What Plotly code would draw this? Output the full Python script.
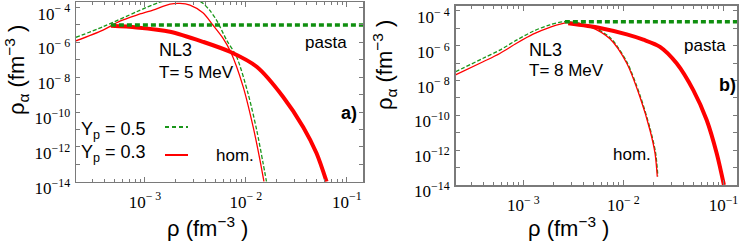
import plotly.graph_objects as go

# ---------------- data: panel a (NL3, T = 5 MeV) ----------------
a_hom03_rho = [2.07e-4, 3.84e-4, 5.65e-4, 8.28e-4, 1.20e-3, 1.77e-3, 2.22e-3, 2.79e-3,
               3.75e-3, 4.71e-3, 5.92e-3, 7.06e-3, 9.40e-3, 1.18e-2, 1.38e-2, 1.51e-2]
a_hom03_alpha = [1.23e-6, 5.1e-6, 1.66e-5, 3.7e-5, 7.2e-5, 1.58e-4, 1.74e-4, 1.38e-4,
                 5.0e-5, 1.0e-5, 1.78e-6, 2.9e-7, 2.8e-9, 1.4e-11, 1.7e-13, 1.0e-14]

a_hom05_rho = [2.07e-4, 3.84e-4, 8.28e-4, 1.35e-3, 1.78e-3, 2.51e-3, 3.16e-3, 3.64e-3,
               4.37e-3, 5.13e-3, 6.44e-3, 8.09e-3, 1.05e-2, 1.28e-2, 1.48e-2, 1.60e-2]
a_hom05_alpha = [1.95e-6, 7.9e-6, 5.75e-5, 1.9e-4, 2.8e-4, 3.2e-4, 2.6e-4, 2.0e-4,
                 7.1e-5, 1.86e-5, 1.35e-6, 1.48e-7, 1.17e-9, 9.1e-12, 1.15e-13, 1.0e-14]

a_pasta03_rho = [4.60e-4, 8.28e-4, 1.77e-3, 3.78e-3, 6.95e-3, 1.28e-2, 2.34e-2, 3.69e-2, 5.01e-2, 6.30e-2]
a_pasta03_alpha = [8.9e-6, 7.2e-6, 4.1e-6, 1.07e-6, 2.9e-7, 4.0e-8, 7.4e-10, 1.4e-11, 4.3e-13, 1.0e-14]

a_pasta05_rho = [4.60e-4, 0.145]
a_pasta05_alpha = [1.0e-5, 1.0e-5]

# ---------------- data: panel b (NL3, T = 8 MeV) ----------------
b_hom03_rho = [2.10e-4, 3.96e-4, 5.82e-4, 8.55e-4, 1.25e-3, 1.84e-3, 2.81e-3, 4.62e-3,
               7.33e-3, 1.08e-2, 1.46e-2, 1.84e-2, 2.07e-2, 2.18e-2]
b_hom03_alpha = [2.1e-8, 1.2e-7, 3.6e-7, 1.38e-6, 4.6e-6, 1.15e-5, 2.1e-5, 1.23e-5,
                 2.5e-6, 9.8e-8, 1.17e-9, 1.45e-11, 6.6e-13, 2.95e-14]

b_hom05_rho = [2.10e-4, 3.96e-4, 5.82e-4, 8.55e-4, 1.25e-3, 1.84e-3, 2.60e-3, 4.62e-3,
               7.33e-3, 1.08e-2, 1.46e-2, 1.84e-2, 2.09e-2, 2.21e-2]
b_hom05_alpha = [3.2e-8, 1.9e-7, 5.6e-7, 2.1e-6, 6.8e-6, 1.58e-5, 2.4e-5, 1.38e-5,
                 3.0e-6, 1.2e-7, 1.5e-9, 1.9e-11, 7.9e-13, 3.2e-14]

b_pasta03_rho = [2.81e-3, 5.82e-3, 1.08e-2, 1.58e-2, 2.32e-2, 3.40e-2, 4.99e-2, 6.79e-2, 8.55e-2, 1.01e-1]
b_pasta03_alpha = [1.95e-5, 1.05e-5, 4.5e-6, 2.24e-6, 8.7e-7, 9.8e-8, 2.8e-9, 5.4e-11, 6.6e-13, 1.0e-14]

b_pasta05_rho = [2.60e-3, 0.14]
b_pasta05_alpha = [2.4e-5, 2.4e-5]

# ---------------- ticks ----------------
x_major = [1e-3, 1e-2, 1e-1]
x_labels = ["10<sup>− 3</sup>", "10<sup>− 2</sup>", "10<sup>−1</sup>"]
y_major = [1e-4, 1e-6, 1e-8, 1e-10, 1e-12, 1e-14]
y_labels = ["10<sup>− 4</sup>", "10<sup>− 6</sup>", "10<sup>− 8</sup>",
            "10<sup>−10</sup>", "10<sup>−12</sup>", "10<sup>−14</sup>"]
y_minor = [1e-5, 1e-7, 1e-9, 1e-11, 1e-13]
x_minor = [m * 10.0 ** e for e in (-4, -3, -2, -1) for m in range(2, 10)]

RED = "#ff0000"
GREEN = "#1a961a"
GREEN_P = "#0f8f0f"
AX = "#7a7a7a"

fig = go.Figure()


def add_panel(xa, ya, hom03, hom05, pas03, pas05):
    fig.add_trace(go.Scatter(x=hom05[0], y=hom05[1], mode="lines", xaxis=xa, yaxis=ya,
                             line=dict(color=GREEN, width=1.3, dash="4px,2px", shape="spline", smoothing=0.8),
                             showlegend=False))
    fig.add_trace(go.Scatter(x=hom03[0], y=hom03[1], mode="lines", xaxis=xa, yaxis=ya,
                             line=dict(color=RED, width=1.3, shape="spline", smoothing=0.8),
                             showlegend=False))
    fig.add_trace(go.Scatter(x=pas03[0], y=pas03[1], mode="lines", xaxis=xa, yaxis=ya,
                             line=dict(color=RED, width=4, shape="spline", smoothing=0.8),
                             showlegend=False))
    fig.add_trace(go.Scatter(x=pas05[0], y=pas05[1], mode="lines", xaxis=xa, yaxis=ya,
                             line=dict(color=GREEN_P, width=3.5, dash="5px,3px"),
                             showlegend=False))


add_panel("x", "y", (a_hom03_rho, a_hom03_alpha), (a_hom05_rho, a_hom05_alpha),
          (a_pasta03_rho, a_pasta03_alpha), (a_pasta05_rho, a_pasta05_alpha))
add_panel("x2", "y2", (b_hom03_rho, b_hom03_alpha), (b_hom05_rho, b_hom05_alpha),
          (b_pasta03_rho, b_pasta03_alpha), (b_pasta05_rho, b_pasta05_alpha))

W, H = 747, 247


def px(x):
    return x / W


def py(y):
    return 1 - y / H


def xaxis(dom, rng, anchor):
    return dict(type="log", domain=dom, range=rng, anchor=anchor, automargin=False,
                showline=True, linecolor=AX, linewidth=1.5,
                mirror="ticks", ticks="inside", ticklen=5, tickwidth=1, tickcolor=AX,
                tickmode="array", tickvals=x_major, ticktext=x_labels, ticklabelstandoff=4,
                ticklabeloverflow="allow",
                tickfont=dict(family="Liberation Serif", size=17, color="black"),
                showgrid=False, zeroline=False,
                minor=dict(tickmode="array", tickvals=x_minor, ticks="inside", ticklen=3,
                           tickcolor=AX, showgrid=False))


def yaxis(dom, rng, anchor):
    return dict(type="log", domain=dom, range=rng, anchor=anchor, automargin=False,
                showline=True, linecolor=AX,
                linewidth=1.5, mirror="ticks", ticks="inside", ticklen=4, tickwidth=1, tickcolor=AX,
                tickmode="array", tickvals=y_major, ticktext=y_labels, ticklabelstandoff=1,
                ticklabelshift=6, ticklabeloverflow="allow",
                tickfont=dict(family="Liberation Serif", size=17, color="black"),
                showgrid=False, zeroline=False,
                minor=dict(tickmode="array", tickvals=y_minor, ticks="inside", ticklen=4,
                           tickcolor=AX, showgrid=False))


fig.update_layout(
    template="none",
    width=W, height=H, margin=dict(l=0, r=0, t=0, b=0, pad=0, autoexpand=False),
    paper_bgcolor="white", plot_bgcolor="white", showlegend=False,
    xaxis=xaxis([px(76), px(363)], [-3.683, -0.84], "y"),
    yaxis=yaxis([py(181.7), py(2)], [-14, -3.68], "x"),
    xaxis2=xaxis([px(455.5), px(737)], [-3.678, -0.865], "y2"),
    yaxis2=yaxis([py(185), py(5.7)], [-14, -3.70], "x2"),
)

SANS = "Liberation Sans"
ann = []


def txt(t, x, y, size=17, xanchor="left", bold=False, angle=0):
    ann.append(dict(text=("<b>%s</b>" % t) if bold else t, x=px(x), y=py(y), xref="paper", yref="paper",
                    xanchor=xanchor, yanchor="middle", showarrow=False, textangle=angle,
                    font=dict(family=SANS, size=size, color="black")))


# panel a texts
txt("NL3", 157, 50, 18)
txt("T= 5 MeV", 157, 72, 17)
txt("pasta", 303, 42, 17)
txt("a)", 339, 113, 18, bold=True)
txt("hom.", 214, 155, 17)
txt("Y<sub>p</sub> = 0.5", 79, 130, 18)
txt("Y<sub>p</sub> = 0.3", 79, 153, 18)
txt("ρ (fm<sup>−3</sup> )", 207, 227, 22, xanchor="center")
txt("ρ<sub>α</sub> (fm<sup>−3</sup> )", 16, 70, 22, xanchor="center", angle=-90)

# panel b texts
txt("NL3", 527, 50, 18)
txt("T= 8 MeV", 527, 70, 17)
txt("pasta", 682, 46, 17)
txt("b)", 717, 85, 18, bold=True)
txt("hom.", 611, 154, 17)
txt("ρ (fm<sup>−3</sup> )", 568, 227, 22, xanchor="center")
txt("ρ<sub>α</sub> (fm<sup>−3</sup> )", 385, 65, 22, xanchor="center", angle=-90)

fig.update_layout(annotations=ann)

# legend sample lines (panel a)
fig.add_shape(type="line", xref="paper", yref="paper", x0=px(165), x1=px(188), y0=py(127), y1=py(127),
              line=dict(color=GREEN, width=2, dash="4px,3px"))
fig.add_shape(type="line", xref="paper", yref="paper", x0=px(165), x1=px(188), y0=py(155), y1=py(155),
              line=dict(color=RED, width=2))

fig.write_html(
    "out.html",
    config={"displayModeBar": False, "staticPlot": True},
    post_script="document.body.style.margin='0';document.body.style.padding='0';"
                "document.body.style.overflow='hidden';",
)
